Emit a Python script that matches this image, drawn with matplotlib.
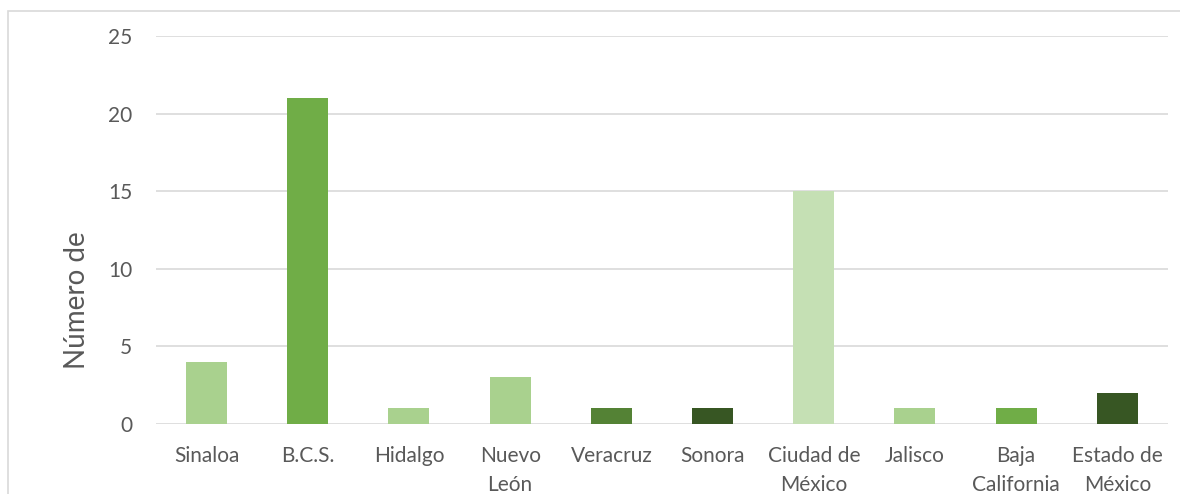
import matplotlib
matplotlib.use("Agg")
import matplotlib.pyplot as plt
from matplotlib.patches import Rectangle

estados = ["Sinaloa", "B.C.S.", "Hidalgo", "Nuevo\nLeón", "Veracruz", "Sonora",
           "Ciudad de\nMéxico", "Jalisco", "Baja\nCalifornia", "Estado de\nMéxico"]
valores = [4, 21, 1, 3, 1, 1, 15, 1, 1, 2]
colores = ["#A9D18E", "#70AD47", "#A9D18E", "#A9D18E", "#548235", "#375623",
           "#C5E0B4", "#A9D18E", "#70AD47", "#375623"]
yticks = [0, 5, 10, 15, 20, 25]

plt.rcParams['font.family'] = ['Lato', 'DejaVu Sans']

fig = plt.figure(figsize=(11.8, 4.94), dpi=100)
ax = fig.add_axes([0.1322, 0.1417, 0.8576, 0.7854])

x = range(len(estados))
ax.bar(x, valores, width=0.405, color=colores, zorder=3)

ax.set_xlim(-0.5, len(estados) - 0.5)
ax.set_ylim(0, 25)
ax.set_yticks(yticks)
ax.set_xticks(list(x))
ax.set_xticklabels(estados, fontsize=15, color="#595959", linespacing=1.55)
ax.tick_params(axis="y", labelsize=15, labelcolor="#595959", length=0, pad=17)
ax.tick_params(axis="x", length=0, pad=16)
ax.grid(axis="y", color="#D9D9D9", linewidth=1.2, zorder=0)
for s in ax.spines.values():
    s.set_visible(False)

ax.set_ylabel("Número de", fontsize=20, color="#595959")
ax.yaxis.set_label_coords(-0.065, 0.32)

# marco del grafico (recortado a la derecha y abajo)
fig.patches.append(Rectangle((8 / 1180, -0.1), 1.2, 1 - 11 / 494 + 0.1,
                             transform=fig.transFigure, fill=False,
                             edgecolor="#D9D9D9", linewidth=1.2))

fig.savefig("out.png", dpi=100)
